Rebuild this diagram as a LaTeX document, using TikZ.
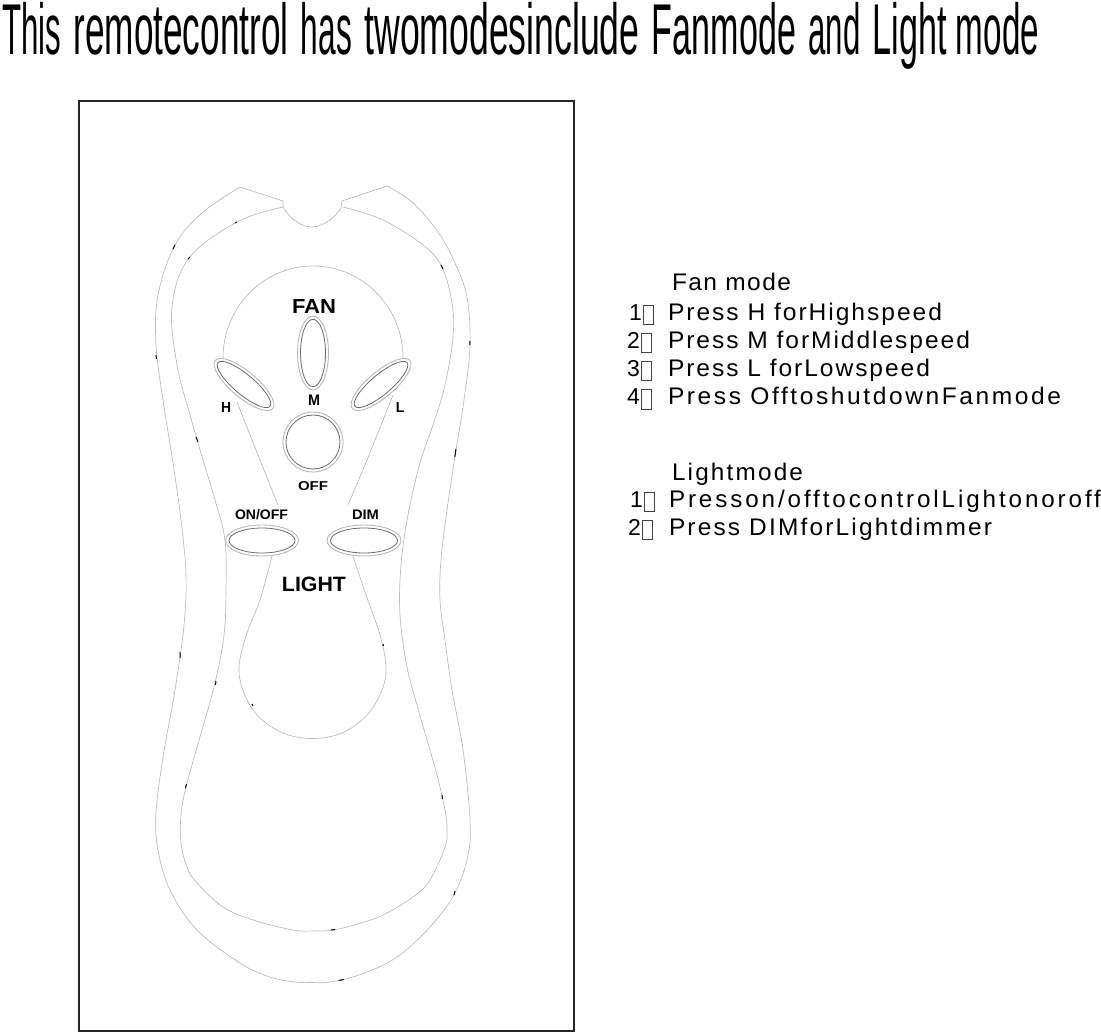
\documentclass[tikz,border=0pt]{standalone}
\usepackage{fontspec}
\usepackage{graphicx}
\setmainfont{Liberation Sans}
\definecolor{thinline}{gray}{0.72}
\definecolor{ringline}{gray}{0.42}
\definecolor{tofuline}{gray}{0.25}
\newcommand{\tofubox}{\raisebox{-4pt}{\setlength{\fboxsep}{0pt}\setlength{\fboxrule}{0.7pt}\textcolor{tofuline}{\fbox{\rule{0pt}{18.5pt}\rule{9.5pt}{0pt}}}}}
\newcommand{\stripe}[6]{\node[txt] (#1) at (#2,#3) {\resizebox{#4pt}{\height}{\fontsize{24pt}{26pt}\selectfont\addfontfeature{LetterSpace=#5}#6}};}
\newcommand{\digitn}[4]{\node[txt] (#1) at (#2,#3) {\fontsize{23pt}{26pt}\selectfont #4\hspace{1.5pt}\tofubox};}
\newcommand{\lab}[6]{\node[lbl] (#1) at (#2,#3) {\resizebox{#4pt}{#5pt}{\bfseries #6}};}
\newcommand{\tw}[2]{\resizebox{#1pt}{\height}{#2}}
\tikzset{
  txt/.style={anchor=base west,inner sep=0pt,outer sep=0pt},
  lbl/.style={anchor=base,inner sep=0pt,outer sep=0pt},
  shell/.style={draw=thinline,line width=0.65pt},
  ringout/.style={draw=thinline,line width=0.9pt},
  ringin/.style={draw=ringline,line width=0.8pt},
  frame/.style={draw=black!85,line width=1.3pt},
  speck/.style={draw=black,line width=1pt}
}
\begin{document}
\begin{tikzpicture}[x=1pt,y=-1pt]
\useasboundingbox (0,0) rectangle (1101,1032);
\node[txt] (title) at (2,54.5) {\fontsize{72pt}{80pt}\selectfont\spaceskip=12.5pt\relax \tw{59}{This} \tw{215}{remotecontrol} \tw{51}{has} \tw{275}{twomodesinclude} \tw{144}{Fanmode} \tw{52}{and} \tw{74}{Light}\kern-3.5pt{} \tw{83}{mode}};
\draw[frame] (79,101) rectangle (574,1031);
% outer shell
\draw[shell] plot[smooth,tension=0.6] coordinates {(240,187)(202,213)(175,245)(158,295)(156,345)(163,400)(173,463)(181,520)(186,575)(184,625)(175,690)(163,757)(156,813)(158,850)(170,890)(197,930)(240,963)(270,977)(295,982)(312,982.5)(330,982)(362,974)(397,957)(430,927)(455,893)(468,855)(470,820)(463,750)(452,690)(445,640)(440,600)(441,560)(447,510)(456,450)(464,400)(470,345)(467,297)(455,263)(438,232)(413,203)(387,186)};
\draw[shell] (240,187)--(283,201)--(283,207) (387,186)--(342,201)--(341,208);
% notch
\draw[shell] plot[smooth,tension=0.7] coordinates {(283,207)(294,220)(312,227)(330,220)(341,208)};
% inner shell
\draw[shell] plot[smooth,tension=0.6] coordinates {(343,207)(383,220)(423,245)(442,267)(452,303)(453,337)(445,385)(433,425)(420,463)(408,515)(401,565)(400,615)(407,667)(417,705)(427,740)(437,775)(445,810)(447,830)(445,847)(430,880)(413,897)(383,915)(358,924)(333,930)(313,931)(293,930)(253,920)(223,907)(197,883)(187,867)(181,843)(181,815)(186,787)(200,737)(215,683)(224,635)(226,590)(225,540)(215,500)(203,460)(190,415)(177,365)(172,307)(189,258)(237,222)(283,207)};
% face panel
\draw[shell] plot[domain=180:360,samples=48,smooth] ({313+90*cos(\x)},{358+92*sin(\x)});
\draw[shell] plot[smooth,tension=0.5] coordinates {(237,402)(260,460)(278,505)};
\draw[shell] plot[smooth,tension=0.5] coordinates {(393,395)(367,460)(348,505)};
\draw[shell] plot[smooth,tension=0.6] coordinates {(272,556)(260,600)(247,633)(239,667)(244,693)(258,716)(283,733)(312,738.5)(342,733)(367,715)(382,690)(386,667)(380,635)(366,595)(353,556)};
% buttons
\foreach \cx/\cy/\ang/\ra/\rb/\rc/\rd in {313/353/0/15.5/37/12.5/33.7, 244/384.5/-40/37.5/13/34/10, 381/384.5/40/37.5/13/34/10, 262/540.5/0/36.5/15.5/33/12.5, 364/540.5/0/37/15.5/33.5/12.5}{
  \draw[ringout,rotate around={\ang:(\cx,\cy)}] (\cx,\cy) ellipse [x radius=\ra,y radius=\rb];
  \draw[ringin,rotate around={\ang:(\cx,\cy)}] (\cx,\cy) ellipse [x radius=\rc,y radius=\rd];
}
\draw[ringout] (313,442) circle (30);
\draw[ringin] (313,442) circle (27);
% specks
\draw[speck] (180,652)--(180,658) (216,681)--(215.5,685) (186.5,784)--(185.5,788) (252,704)--(253,706) (383,644)--(383.5,646) (442,795)--(442.5,799) (331,930)--(335,929.5) (339,980.5)--(344,979.5) (455,891)--(454,895) (156,355)--(156.5,359) (175,245)--(173,249) (190,257)--(188,259) (237,222)--(235,223) (441,265)--(443,269) (470,341)--(469.8,345) (456,449)--(454.8,457) (196,437)--(198,442);
% labels
\lab{lfan}{314}{313.5}{44}{14}{FAN}
\lab{lm}{314}{406}{12}{10.5}{M}
\lab{lh}{226}{413}{10}{10}{H}
\lab{ll}{400}{413}{8.5}{10}{L}
\lab{loff}{313}{490}{30}{9}{OFF}
\lab{lon}{261.5}{519}{53}{10}{ON/OFF}
\lab{ldim}{365.5}{519.5}{27}{9.5}{DIM}
\lab{llight}{314}{591.5}{64}{14.5}{LIGHT}
% text
\stripe{a0}{672}{291}{119}{6}{Fan mode}
\digitn{a1d}{629}{320.5}{1}\stripe{a1}{668}{320.5}{274}{8}{Press H forHighspeed}
\digitn{a2d}{627}{348.5}{2}\stripe{a2}{668}{348.5}{302}{8}{Press M forMiddlespeed}
\digitn{a3d}{627}{376.5}{3}\stripe{a3}{668}{376.5}{262}{8}{Press L forLowspeed}
\digitn{a4d}{627}{404.5}{4}\stripe{a4}{668}{404.5}{393}{10.5}{Press OfftoshutdownFanmode}
\stripe{b0}{672}{480}{131}{9}{Lightmode}
\digitn{b1d}{630}{507}{1}\stripe{b1}{669}{507}{432}{12}{Presson/offtocontrolLightonoroff}
\digitn{b2d}{628}{535}{2}\stripe{b2}{669}{535}{323}{9}{Press DIMforLightdimmer}
\end{tikzpicture}
\end{document}
